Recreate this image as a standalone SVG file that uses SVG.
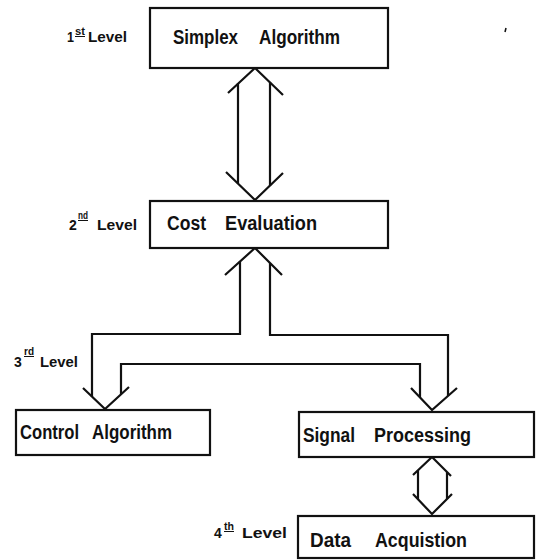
<svg xmlns="http://www.w3.org/2000/svg" width="536" height="560" viewBox="0 0 536 560">
<style>
.box{fill:#fff;stroke:#111;stroke-width:2.2}
.ln{fill:none;stroke:#111;stroke-width:2.2;stroke-linejoin:miter;stroke-linecap:butt}
.t{font-family:"Liberation Sans",Arial,sans-serif;font-weight:bold;font-size:20px;fill:#111}
.lv{font-family:"Liberation Sans",Arial,sans-serif;font-weight:bold;font-size:14px;fill:#111}
.sup{font-size:10px;text-decoration:underline}
</style>
<rect width="536" height="560" fill="#fff"/>
<g id="connectors">
<polyline class="ln" points="228,93 255,68 283,95"/>
<polyline class="ln" points="226,172 255,200 283,173"/>
<line class="ln" x1="238" y1="83" x2="238" y2="184"/>
<line class="ln" x1="270" y1="82" x2="270" y2="186"/>
<polyline class="ln" points="225,275 255,248 282,275"/>
<polyline class="ln" points="240,261.5 240,334 92,334 92,397"/>
<polyline class="ln" points="270,263 270,335 448,335 448,396"/>
<polyline class="ln" points="121,394 121,364 420,364 420,397"/>
<polyline class="ln" points="83,388 105,409 129,387"/>
<polyline class="ln" points="411,388 432,410 457,388"/>
<polyline class="ln" points="413,475 432,457 451,476"/>
<polyline class="ln" points="413,494 432,514 452,494"/>
<line class="ln" x1="418" y1="470" x2="418" y2="499"/>
<line class="ln" x1="447" y1="472" x2="447" y2="499"/>
</g>
<g id="simplex">
<rect class="box" x="150" y="8" width="238" height="60"/>
<text class="t" y="44"><tspan x="173" textLength="65" lengthAdjust="spacingAndGlyphs">Simplex</tspan> <tspan x="259" textLength="81" lengthAdjust="spacingAndGlyphs">Algorithm</tspan></text>
</g>
<g id="cost">
<rect class="box" x="150" y="201" width="238" height="47"/>
<text class="t" y="230"><tspan x="167" textLength="39" lengthAdjust="spacingAndGlyphs">Cost</tspan> <tspan x="225" textLength="92" lengthAdjust="spacingAndGlyphs">Evaluation</tspan></text>
</g>
<g id="control">
<rect class="box" x="16" y="410" width="194" height="45"/>
<text class="t" y="439"><tspan x="20" textLength="59" lengthAdjust="spacingAndGlyphs">Control</tspan> <tspan x="92" textLength="80" lengthAdjust="spacingAndGlyphs">Algorithm</tspan></text>
</g>
<g id="signal">
<rect class="box" x="299" y="412" width="235" height="45"/>
<text class="t" y="442"><tspan x="303" textLength="52" lengthAdjust="spacingAndGlyphs">Signal</tspan> <tspan x="374" textLength="97" lengthAdjust="spacingAndGlyphs">Processing</tspan></text>
</g>
<g id="data">
<rect class="box" x="298" y="516" width="236" height="42"/>
<text class="t" y="547"><tspan x="310" textLength="41" lengthAdjust="spacingAndGlyphs">Data</tspan> <tspan x="375" textLength="92" lengthAdjust="spacingAndGlyphs">Acquistion</tspan></text>
</g>
<g id="levels">
<text class="lv"><tspan x="67" y="42" textLength="7" lengthAdjust="spacingAndGlyphs">1</tspan><tspan class="sup" x="75" y="35" textLength="10" lengthAdjust="spacingAndGlyphs">st</tspan><tspan x="88" y="42" textLength="39" lengthAdjust="spacingAndGlyphs">Level</tspan></text>
<text class="lv"><tspan x="69" y="230">2</tspan><tspan class="sup" x="78" y="219" textLength="10" lengthAdjust="spacingAndGlyphs">nd</tspan><tspan x="97" y="230" textLength="40" lengthAdjust="spacingAndGlyphs">Level</tspan></text>
<text class="lv"><tspan x="14" y="367">3</tspan><tspan class="sup" x="24" y="355" textLength="10" lengthAdjust="spacingAndGlyphs">rd</tspan><tspan x="40" y="367" textLength="38" lengthAdjust="spacingAndGlyphs">Level</tspan></text>
<text class="lv"><tspan x="214" y="538">4</tspan><tspan class="sup" x="224" y="530" textLength="10" lengthAdjust="spacingAndGlyphs">th</tspan><tspan x="242" y="538" textLength="45" lengthAdjust="spacingAndGlyphs">Level</tspan></text>
</g>
<path d="M506,28 L505,32" stroke="#111" stroke-width="1.5"/>
</svg>
